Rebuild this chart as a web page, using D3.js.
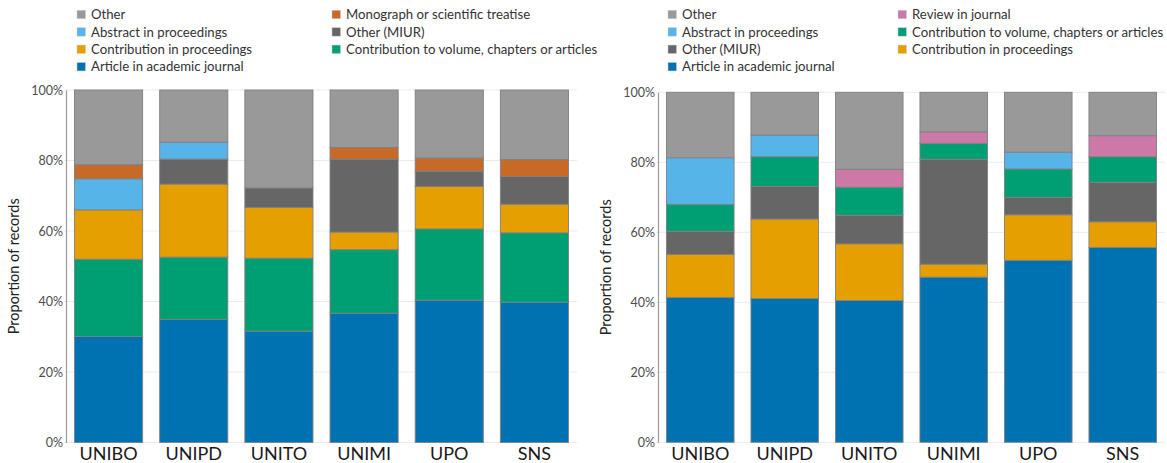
<!DOCTYPE html>
<html>
<head>
<meta charset="utf-8">
<script src="https://cdn.jsdelivr.net/npm/d3@7"></script>
<style>
  body { margin: 0; background: #fff; }
  svg { display: block; font-family: Lato, "Open Sans", sans-serif; }
</style>
</head>
<body>
<script>
var universities = ["UNIBO", "UNIPD", "UNITO", "UNIMI", "UPO", "SNS"];
var yTicks = [0, 20, 40, 60, 80, 100];

// left panel, percentages per university
var leftArticle = [30.1, 34.9, 31.6, 36.7, 40.4, 39.8];
var leftVolume = [21.9, 17.7, 20.7, 18.0, 20.2, 19.7];
var leftProceedings = [14.0, 20.7, 14.4, 5.0, 12.0, 8.1];
var leftOtherMiur = [0, 7.1, 5.5, 20.7, 4.4, 7.9];
var leftAbstract = [8.8, 4.8, 0, 0, 0, 0];
var leftMonograph = [4.0, 0, 0, 3.3, 3.7, 4.8];
var leftOther = [21.2, 14.8, 27.8, 16.3, 19.3, 19.7];

// right panel
var rightArticle = [41.4, 41.1, 40.5, 47.2, 52.0, 55.7];
var rightProceedings = [12.3, 22.7, 16.2, 3.7, 13.0, 7.3];
var rightOtherMiur = [6.6, 9.3, 8.2, 30.0, 5.0, 11.3];
var rightVolume = [7.7, 8.5, 8.0, 4.5, 8.1, 7.3];
var rightAbstract = [13.3, 6.2, 0, 0, 4.8, 0];
var rightReview = [0, 0, 5.1, 3.3, 0, 6.0];
var rightOther = [18.7, 12.2, 22.0, 11.3, 17.1, 12.4];

var colors = {
  "Other": "#999999",
  "Abstract in proceedings": "#56B4E9",
  "Contribution in proceedings": "#E69F00",
  "Article in academic journal": "#0072B2",
  "Monograph or scientific treatise": "#C86A27",
  "Other (MIUR)": "#666666",
  "Contribution to volume, chapters or articles": "#009E73",
  "Review in journal": "#CC79A7"
};

var leftSeries = [
  ["Article in academic journal", leftArticle],
  ["Contribution to volume, chapters or articles", leftVolume],
  ["Contribution in proceedings", leftProceedings],
  ["Other (MIUR)", leftOtherMiur],
  ["Abstract in proceedings", leftAbstract],
  ["Monograph or scientific treatise", leftMonograph],
  ["Other", leftOther]
];
var leftLegend = [
  ["Other", "Abstract in proceedings", "Contribution in proceedings", "Article in academic journal"],
  ["Monograph or scientific treatise", "Other (MIUR)", "Contribution to volume, chapters or articles"]
];

var rightSeries = [
  ["Article in academic journal", rightArticle],
  ["Contribution in proceedings", rightProceedings],
  ["Other (MIUR)", rightOtherMiur],
  ["Contribution to volume, chapters or articles", rightVolume],
  ["Abstract in proceedings", rightAbstract],
  ["Review in journal", rightReview],
  ["Other", rightOther]
];
var rightLegend = [
  ["Other", "Abstract in proceedings", "Other (MIUR)", "Article in academic journal"],
  ["Review in journal", "Contribution to volume, chapters or articles", "Contribution in proceedings"]
];

var svg = d3.select("body").append("svg").attr("width", 1167).attr("height", 463);

function drawPanel(series, legend, box) {
  var keys = series.map(function (s) { return s[0]; });
  var rows = universities.map(function (u, i) {
    var r = { uni: u };
    series.forEach(function (s) { r[s[0]] = s[1][i]; });
    return r;
  });
  var stacked = d3.stack().keys(keys)(rows);

  var x = d3.scaleBand().domain(universities).range([box.x0, box.x1])
    .paddingInner(0.2).paddingOuter(0.1);
  var y = d3.scaleLinear().domain([0, 100]).range([box.y0, box.y1]);

  var g = svg.append("g");

  // grid
  g.selectAll(".grid").data(yTicks).enter().append("line")
    .attr("x1", box.x0 - 2).attr("x2", box.x1)
    .attr("y1", function (d) { return y(d); }).attr("y2", function (d) { return y(d); })
    .attr("stroke", "#ebebeb").attr("stroke-width", 1);

  // y axis
  var ya = g.append("g").attr("transform", "translate(" + box.x0 + ",0)")
    .call(d3.axisLeft(y).tickValues(yTicks).tickSize(0).tickPadding(3)
      .tickFormat(function (d) { return d + "%"; }));
  ya.select(".domain").attr("stroke", "#9a9a9a").attr("stroke-width", 1.2);
  ya.selectAll("text").attr("font-size", 12.5).attr("fill", "#4d4d4d")
    .attr("font-family", "Lato, sans-serif");

  // bars
  g.selectAll(".layer").data(stacked).enter().append("g")
    .attr("fill", function (d) { return colors[d.key]; })
    .selectAll("rect").data(function (d) { return d.filter(function (p) { return p[1] - p[0] > 0; }); })
    .enter().append("rect")
    .attr("x", function (d) { return x(d.data.uni); })
    .attr("width", x.bandwidth())
    .attr("y", function (d) { return y(d[1]); })
    .attr("height", function (d) { return y(d[0]) - y(d[1]); })
    .attr("stroke", "#808080").attr("stroke-width", 0.9);

  // x labels
  var xa = g.append("g").attr("transform", "translate(0," + box.y0 + ")")
    .call(d3.axisBottom(x).tickSize(0).tickPadding(5));
  xa.select(".domain").remove();
  xa.selectAll("text").attr("font-size", 18).attr("fill", "#1a1a1a")
    .attr("font-family", "Lato, sans-serif");

  // y title
  g.append("text")
    .attr("transform", "translate(" + box.titleX + "," + ((box.y0 + box.y1) / 2) + ") rotate(-90)")
    .attr("text-anchor", "middle").attr("font-size", 14.5).attr("fill", "#222")
    .text("Proportion of records");

  // legend
  legend.forEach(function (col, ci) {
    col.forEach(function (k, ri) {
      var ly = 14.5 + ri * 17.4;
      var lx = box.legendX[ci];
      g.append("rect").attr("x", lx).attr("y", ly - 4.25).attr("width", 8.5).attr("height", 8.5)
        .attr("fill", colors[k]).attr("stroke", "#d0d0d0").attr("stroke-width", 0.5);
      g.append("text").attr("x", lx + 14).attr("y", ly).attr("dy", "0.35em")
        .attr("font-size", 13.2).attr("fill", "#333").text(k);
    });
  });
}

drawPanel(leftSeries, leftLegend, { x0: 66, x1: 577, y0: 442.5, y1: 90, titleX: 19, legendX: [77, 332] });
drawPanel(rightSeries, rightLegend, { x0: 658, x1: 1165, y0: 442.3, y1: 92.3, titleX: 611, legendX: [668, 898] });
</script>
</body>
</html>
